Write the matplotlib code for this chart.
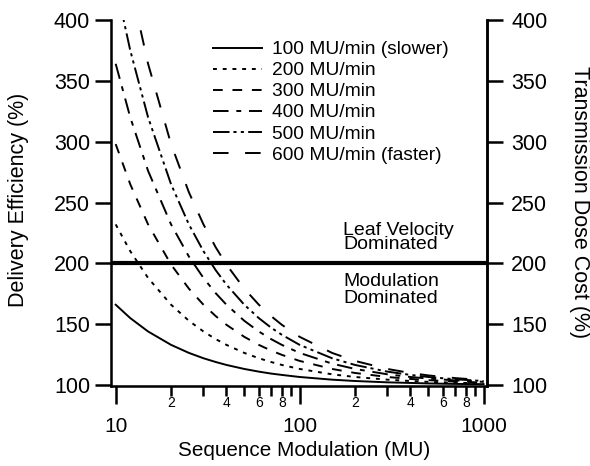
import matplotlib.pyplot as plt
from matplotlib.ticker import FixedLocator, FuncFormatter

plt.rcParams['font.family'] = ['Liberation Sans', 'DejaVu Sans']

# sequence modulation (MU) sample points
mu = [10, 12, 15, 20, 25, 30, 35, 40, 50, 60, 70, 80, 100, 150, 200, 300, 400, 500, 700, 1000]

# delivery efficiency (%)
eff_100 = [166, 155, 144, 133, 126.4, 122, 118.9, 116.5, 113.2, 111, 109.4, 108.3, 106.6, 104.4, 103.3, 102.2, 101.7, 101.3, 100.9, 100.7]
eff_200 = [232, 210, 188, 166, 152.8, 144, 137.7, 133, 126.4, 122, 118.9, 116.5, 113.2, 108.8, 106.6, 104.4, 103.3, 102.6, 101.9, 101.3]
eff_300 = [298, 265, 232, 199, 179.2, 166, 156.6, 149.5, 139.6, 133, 128.3, 124.8, 119.8, 113.2, 109.9, 106.6, 105, 104, 102.8, 102]
eff_400 = [364, 320, 276, 232, 205.6, 188, 175.4, 166, 152.8, 144, 137.7, 133, 126.4, 117.6, 113.2, 108.8, 106.6, 105.3, 103.8, 102.6]
eff_500 = [430, 375, 320, 265, 232, 210, 194.3, 182.5, 166, 155, 147.1, 141.3, 133, 122, 116.5, 111, 108.3, 106.6, 104.7, 103.3]
eff_600 = [496, 430, 364, 298, 258.4, 232, 213.1, 199, 179.2, 166, 156.6, 149.5, 139.6, 126.4, 119.8, 113.2, 109.9, 107.9, 105.7, 104]

labels = ['100 MU/min (slower)', '200 MU/min', '300 MU/min',
          '400 MU/min', '500 MU/min', '600 MU/min (faster)']
styles = ['-', (0, (2, 3)), (0, (5, 5)), (0, (8, 4, 2.5, 4)),
          (0, (8.5, 2, 1.6, 2.2, 1.6, 2.2)), (0, (8, 8.5))]

fig = plt.figure(figsize=(5.9, 4.66), dpi=100)
ax = fig.add_axes([0.1881, 0.1717, 0.6373, 0.7854])

for y, lab, ls in zip([eff_100, eff_200, eff_300, eff_400, eff_500, eff_600], labels, styles):
    ax.plot(mu, y, color='black', lw=1.4, ls=ls, label=lab)

ax.axhline(200, color='black', lw=3)

ax.set_xscale('log')
ax.set_xlim(9.428, 1043.5)
ax.set_ylim(99.2, 400)


def minor_label(v, pos):
    s = str(int(round(v)))
    return s[0] if s[0] in '2468' else ''


# x ticks: big decade labels, small 2/4/6/8 labels
ax.xaxis.set_major_locator(FixedLocator([10, 100, 1000]))
ax.xaxis.set_major_formatter(FuncFormatter(lambda v, p: '%d' % v))
ax.xaxis.set_minor_locator(FixedLocator([m * d for d in (10, 100) for m in range(2, 10)]))
ax.xaxis.set_minor_formatter(FuncFormatter(minor_label))
ax.tick_params(axis='x', which='major', direction='out', length=13, width=1.8, labelsize=15, pad=9)
ax.tick_params(axis='x', which='minor', direction='out', length=7, width=1.8, labelsize=10, pad=0.5)
ax.set_yticks([100, 150, 200, 250, 300, 350, 400])
ax.tick_params(axis='y', direction='out', length=11.5, width=1.8, labelsize=15.5, pad=3.5)

ax.spines['top'].set_visible(False)
for s in ['left', 'bottom', 'right']:
    ax.spines[s].set_linewidth(1.8)

ax2 = ax.twinx()
ax2.set_ylim(ax.get_ylim())
ax2.set_yticks([100, 150, 200, 250, 300, 350, 400])
ax2.tick_params(axis='y', direction='out', length=11.5, width=1.8, labelsize=15.5, pad=6)
ax2.spines['top'].set_visible(False)
ax2.spines['right'].set_linewidth(1.8)

# axis titles
fig.text(0.5153, 0.0322, 'Sequence Modulation (MU)', fontsize=14.9, ha='center', va='center')
fig.text(0.0322, 0.5708, 'Delivery Efficiency (%)', fontsize=15.5, rotation=90, ha='center', va='center')
fig.text(0.9814, 0.5665, 'Transmission Dose Cost (%)', fontsize=15.5, rotation=270, ha='center', va='center')

ax.text(173, 208.5, 'Leaf Velocity\nDominated', fontsize=14, ha='left', va='bottom', linespacing=0.8)
ax.text(173, 192, 'Modulation\nDominated', fontsize=14, ha='left', va='top', linespacing=1.0)

ax.legend(loc='upper left', bbox_to_anchor=(0.3605, 0.9123), bbox_transform=fig.transFigure,
          frameon=False, fontsize=13.8, handlelength=2.56, labelspacing=0.19,
          handletextpad=0.52, borderpad=0, borderaxespad=0)

plt.savefig('out.png', dpi=100)
